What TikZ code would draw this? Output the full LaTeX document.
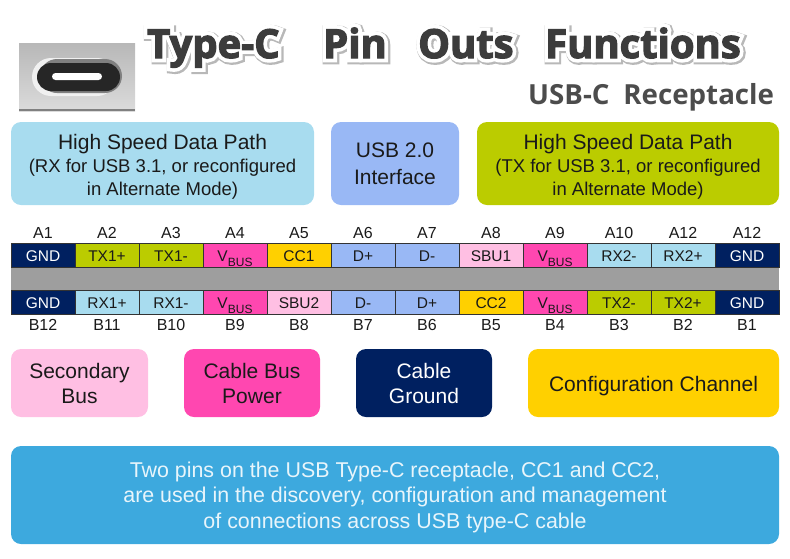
\documentclass[tikz,border=0pt]{standalone}
\usepackage{fontspec}
\setmainfont{Liberation Sans}
\newfontfamily\titlefont{Open Sans}[BoldFont=* Bold]
\usetikzlibrary{positioning}
\definecolor{navy}{HTML}{002060}
\definecolor{olive}{HTML}{BBCC00}
\definecolor{hotpink}{HTML}{FF47B0}
\definecolor{amber}{HTML}{FFD000}
\definecolor{peri}{HTML}{99B8F5}
\definecolor{softpink}{HTML}{FFBFE3}
\definecolor{skyblue}{HTML}{A8DCEF}
\definecolor{deepsky}{HTML}{3DA9DE}
\definecolor{inktext}{HTML}{1A1A1A}
\definecolor{titleink}{HTML}{3C3C3C}
\newcommand{\vbus}{V\raisebox{-5.5pt}{\fontsize{12}{12}\selectfont BUS}}
% stroked text behind the fill gives the halo of the title
\newcommand{\halotext}[1]{\leavevmode\rlap{\special{pdf:code q 1 Tr 10.5 w 0.72 0.72 0.72 RG}\raisebox{-1.2pt}{\kern1.2pt #1}\special{pdf:code Q}}\rlap{\special{pdf:code q 1 Tr 8.5 w 1 1 1 RG}#1\special{pdf:code Q}}\special{pdf:code q 2 Tr 1.2 w 0.235 0.235 0.235 RG}#1\special{pdf:code Q}}
\begin{document}
\begin{tikzpicture}[x=1pt, y=-1pt,
  pin/.style = {draw=black!80, line width=0.8pt, minimum width=64pt, minimum height=24pt, inner sep=0pt, text height=12.5pt, text depth=0pt, font=\fontsize{15.5}{16}\selectfont, text=inktext},
  pinlabel/.style = {inner sep=0pt, font=\fontsize{16}{16}\selectfont, text=inktext},
  block/.style = {rounded corners=10pt, inner sep=0pt, align=center, text=inktext, font=\fontsize{21}{25}\selectfont},
  pathblock/.style = {block, minimum height=83pt, text height=63pt, text depth=0pt},
  titleword/.style = {anchor=base west, inner sep=0pt, text=titleink, font=\titlefont\bfseries\fontsize{40}{40}\selectfont}]
\useasboundingbox (0,0) rectangle (790,558);

% connector picture
\shade[top color=black!28, bottom color=black!14] (19,43) rectangle (135,111);
\fill[black!50] (19,109) rectangle (135,111);
\fill[black!6, rounded corners=19pt] (32,58) rectangle (116,96);
\fill[black!50, rounded corners=17pt] (40,59) rectangle (122,93);
\fill[black!85, rounded corners=14pt] (37,63) rectangle (120,91);
\fill[white, rounded corners=3.5pt] (52,73) rectangle (102,80);

% title
\node[titleword] (type) at (147,58) {\halotext{Type-C}};
\node[titleword] (pinw) at (323,58) {\halotext{Pin}};
\node[titleword] (outs) at (418,58) {\halotext{Outs}};
\node[titleword] (func) at (545,58) {\halotext{Functions}};
\node[anchor=base west, inner sep=0pt, text=black!70, font=\titlefont\bfseries\fontsize{27.7}{28}\selectfont] (recept) at (528,104) {USB-C\hspace{0.5em}Receptacle};

% top blocks
\node[pathblock, fill=skyblue, minimum width=303pt] (rxpath) at (162.5,163.5) {High Speed Data Path\\[-2pt]{\fontsize{18.5}{23}\selectfont (RX for USB 3.1, or reconfigured}\\[-2pt]{\fontsize{18.5}{23}\selectfont in Alternate Mode)}};
\node[block, fill=peri, minimum width=128pt, minimum height=83pt, text height=41pt, text depth=0pt, font=\fontsize{21}{26.5}\selectfont] (usb2) at (395,163.5) {USB 2.0\\Interface};
\node[pathblock, fill=olive, minimum width=302pt] (txpath) at (628,163.5) {High Speed Data Path\\[-2pt]{\fontsize{18.5}{23}\selectfont (TX for USB 3.1, or reconfigured}\\[-2pt]{\fontsize{18.5}{23}\selectfont in Alternate Mode)}};

% middle bar of the receptacle
\fill[black!38] (11,267) rectangle (779,290);

% pin rows
\foreach \pinname/\pinfill/\pintext/\pinid [count=\i] in {
  {GND}/navy/white/A1, {TX1+}/olive/inktext/A2, {TX1-}/olive/inktext/A3, {\vbus}/hotpink/inktext/A4,
  {CC1}/amber/inktext/A5, {D+}/peri/inktext/A6, {D-}/peri/inktext/A7, {SBU1}/softpink/inktext/A8,
  {\vbus}/hotpink/inktext/A9, {RX2-}/skyblue/inktext/A10, {RX2+}/skyblue/inktext/A12, {GND}/navy/white/A12} {
  \node[pin, fill=\pinfill, text=\pintext] (a\i) at (-21+\i*64,255) {\pinname};
  \node[pinlabel, above=4pt of a\i] (la\i) {\pinid};
}
\foreach \pinname/\pinfill/\pintext/\pinid [count=\i] in {
  {GND}/navy/white/B12, {RX1+}/skyblue/inktext/B11, {RX1-}/skyblue/inktext/B10, {\vbus}/hotpink/inktext/B9,
  {SBU2}/softpink/inktext/B8, {D-}/peri/inktext/B7, {D+}/peri/inktext/B6, {CC2}/amber/inktext/B5,
  {\vbus}/hotpink/inktext/B4, {TX2-}/olive/inktext/B3, {TX2+}/olive/inktext/B2, {GND}/navy/white/B1} {
  \node[pin, fill=\pinfill, text=\pintext] (b\i) at (-21+\i*64,302) {\pinname};
  \node[pinlabel, below=5pt of b\i] (lb\i) {\pinid};
}

% legend
\node[block, fill=softpink, minimum width=137pt, minimum height=68pt] (secbus) at (79.5,383) {Secondary\\Bus};
\node[block, fill=hotpink, minimum width=136pt, minimum height=68pt] (cblpow) at (252,383) {Cable Bus\\Power};
\node[block, fill=navy, minimum width=136pt, minimum height=68pt, text=white] (cblgnd) at (424,383) {Cable\\Ground};
\node[block, fill=amber, minimum width=251pt, minimum height=68pt, text height=16pt, text depth=0pt] (cfgchan) at (653.5,383) {Configuration Channel};

% note
\node[block, fill=deepsky, minimum width=768pt, minimum height=98pt, text height=66pt, text depth=0pt, text=white!88!deepsky, font=\fontsize{21.4}{25.5}\selectfont] (note) at (395,495) {Two pins on the USB Type-C receptacle, CC1 and CC2,\\are used in the discovery, configuration and management\\of connections across USB type-C cable};
\end{tikzpicture}
\end{document}
